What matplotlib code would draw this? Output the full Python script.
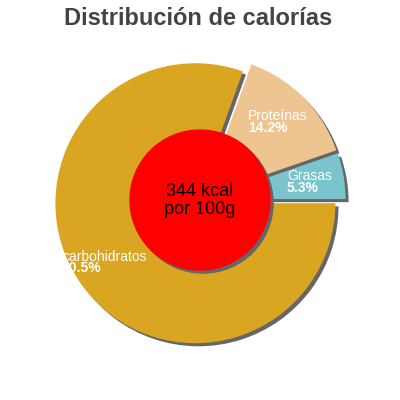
import matplotlib
matplotlib.use("Agg")
import matplotlib.pyplot as plt
from matplotlib.patches import Circle

# data (order as drawn, counter-clockwise from 0 degrees)
categorias = ["Grasas", "Proteínas", "carbohidratos"]
porcentajes = [5.3, 14.2, 80.5]
colores = ["#7AC5CD", "#EEC591", "#DAA520"]
kcal_texto = ["344 kcal", "por 100g"]
titulo = "Distribución de calorías"

# label anchors (data units), left aligned: (x, y line 1, y line 2)
pos_etiquetas = [(0.621, 0.143, 0.057), (0.343, 0.571, 0.486), (-0.986, -0.436, -0.514)]

plt.rcParams['font.family'] = ['Liberation Sans', 'DejaVu Sans']

fig = plt.figure(figsize=(4, 4), dpi=100, facecolor='white')
ax = fig.add_axes([0, 0, 1, 1])

explode = [0.04, 0.04, 0.04]
off = 0.022

# sombra
ax.pie(porcentajes, colors=['#666666'] * 3, startangle=0, counterclock=True,
       explode=explode, radius=1.0, center=(off, -off), frame=True)
# tarta
ax.pie(porcentajes, colors=colores, startangle=0, counterclock=True,
       explode=explode, radius=1.0, center=(0, 0), frame=True)
ax.set_xlim(-200 / 140, 200 / 140)
ax.set_ylim(-200 / 140, 200 / 140)
ax.set_aspect('equal')
ax.axis('off')

# circulo central con sombra
ax.add_patch(Circle((off, -off), 0.5, color='#666666', zorder=5))
ax.add_patch(Circle((0, 0), 0.5, color='#FF0000', zorder=6))
ax.text(0, 0.029, kcal_texto[0], ha='center', va='baseline', fontsize=13, color='black', zorder=7)
ax.text(0, -0.1, kcal_texto[1], ha='center', va='baseline', fontsize=13, color='black', zorder=7)

for nombre, pct, (x, y1, y2) in zip(categorias, porcentajes, pos_etiquetas):
    ax.text(x, y1, nombre, ha='left', va='baseline', fontsize=10, color='white', zorder=4)
    ax.text(x, y2, f"{pct}%", ha='left', va='baseline', fontsize=10, color='white',
            weight='bold', zorder=4)

fig.text(0.495, 1 - 25 / 400, titulo, ha='center', va='baseline', fontsize=17,
         weight='bold', color='#444444')

fig.savefig("out.png", dpi=100, facecolor='white')
